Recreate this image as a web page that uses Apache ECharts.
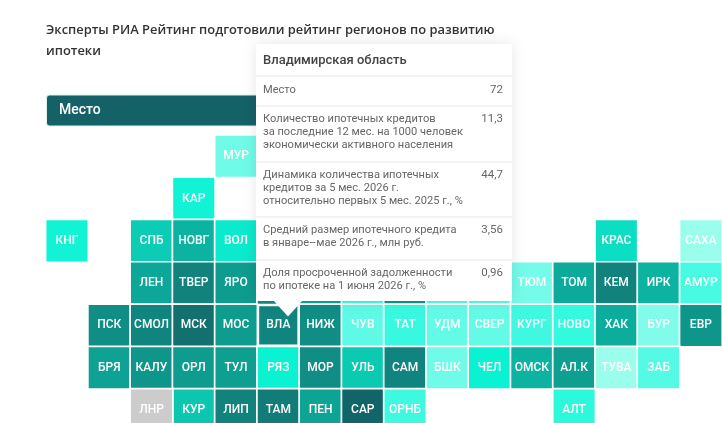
<!DOCTYPE html>
<html lang="ru">
<head>
<meta charset="utf-8">
<title>Рейтинг регионов по развитию ипотеки</title>
<style>
  html, body { margin: 0; padding: 0; background: #fff; overflow: hidden; height: 423px; }
  #chart { width: 722px; height: 440px; }
</style>
<script src="https://cdn.jsdelivr.net/npm/echarts@6/dist/echarts.min.js"></script>
</head>
<body>
<div id="chart"></div>
<script>
// Tile map: each region sits on a column/row of a 16 x 7 grid, coloured by its place.
const titleText = 'Эксперты РИА Рейтинг подготовили рейтинг регионов по развитию\nипотеки';
const metricName = 'Место';

const regionCodes = [
  'ВЛА', 'МУР', 'КАР', 'КНГ', 'СПБ', 'НОВГ', 'ВОЛ', 'КРАС', 'САХА',
  'ЛЕН', 'ТВЕР', 'ЯРО', 'ИВА', 'КОС', 'МЭЛ', 'КИР', 'ПЕРМ', 'ХМАО', 'ТЮМ', 'ТОМ', 'КЕМ', 'ИРК', 'АМУР',
  'ПСК', 'СМОЛ', 'МСК', 'МОС', 'НИЖ', 'ЧУВ', 'ТАТ', 'УДМ', 'СВЕР', 'КУРГ', 'НОВО', 'ХАК', 'БУР', 'ЕВР',
  'БРЯ', 'КАЛУ', 'ОРЛ', 'ТУЛ', 'РЯЗ', 'МОР', 'УЛЬ', 'САМ', 'БШК', 'ЧЕЛ', 'ОМСК', 'АЛ.К', 'ТУВА', 'ЗАБ',
  'КУР', 'ЛИП', 'ТАМ', 'ПЕН', 'САР', 'ОРНБ', 'АЛТ'
];
const regionColumns = [
  5, 4, 3, 0, 2, 3, 4, 13, 15,
  2, 3, 4, 5, 6, 7, 8, 9, 10, 11, 12, 13, 14, 15,
  1, 2, 3, 4, 6, 7, 8, 9, 10, 11, 12, 13, 14, 15,
  1, 2, 3, 4, 5, 6, 7, 8, 9, 10, 11, 12, 13, 14,
  3, 4, 5, 6, 7, 8, 12
];
const regionRows = [
  4, 0, 1, 2, 2, 2, 2, 2, 2,
  3, 3, 3, 3, 3, 3, 3, 3, 3, 3, 3, 3, 3, 3,
  4, 4, 4, 4, 4, 4, 4, 4, 4, 4, 4, 4, 4, 4,
  5, 5, 5, 5, 5, 5, 5, 5, 5, 5, 5, 5, 5, 5,
  6, 6, 6, 6, 6, 6, 6
];
const regionPlaces = [
  72, 12, 32, 32, 48, 56, 37, 42, 5,
  60, 73, 64, 69, 60, 20, 66, 15, 15, 11, 59, 73, 56, 19,
  69, 72, 79, 64, 69, 15, 22, 14, 14, 21, 23, 58, 9, 66,
  62, 66, 64, 63, 34, 69, 49, 72, 12, 34, 56, 63, 5, 17,
  50, 73, 75, 61, 84, 21, 25
];
// Region without a rating, shown in grey
const unratedCode = 'ЛНР';
const unratedCell = [2, 6];

const tooltipRegion = 'Владимирская область';
const tooltipLabels = [
  'Место',
  'Количество ипотечных кредитов\nза последние 12 мес. на 1000 человек\nэкономически активного населения',
  'Динамика количества ипотечных\nкредитов за 5 мес. 2026 г.\nотносительно первых 5 мес. 2025 г., %',
  'Средний размер ипотечного кредита\nв январе–мае 2026 г., млн руб.',
  'Доля просроченной задолженности\nпо ипотеке на 1 июня 2026 г., %'
];
const tooltipValues = ['72', '11,3', '44,7', '3,56', '0,96'];

// Layout of the hover card
const card = { x: 256, y: 44, w: 256, h: 257 };
const cardTextTops = [83.5, 113, 169, 224, 267];
const cardDividers = [75, 105, 161, 216, 259];

const columnNames = Array.from({ length: 16 }, (_, i) => String(i));
const rowNames = Array.from({ length: 7 }, (_, i) => String(i));
const pitch = 42.3;

const cells = regionCodes.map((code, i) => {
  const item = { name: code, value: [regionColumns[i], regionRows[i], regionPlaces[i]] };
  // The hovered tile is inset by a wider white edge
  if (code === 'ВЛА') item.itemStyle = { borderWidth: 4.6 };
  return item;
});

const graphicElements = [
  {
    type: 'rect', z: 5,
    shape: { x: 46.5, y: 95, width: 400, height: 31, r: 3 },
    style: { fill: '#156168', stroke: '#dff1f1', lineWidth: 1 }
  },
  {
    type: 'text', z: 6, x: 59, y: 110,
    style: { text: metricName, fill: '#fff', font: '500 14px Roboto', textVerticalAlign: 'middle' }
  },
  {
    type: 'rect', z: 20,
    shape: { x: card.x, y: card.y, width: card.w, height: card.h },
    style: { fill: '#fff', shadowBlur: 14, shadowColor: 'rgba(0,0,0,0.10)' }
  },
  {
    type: 'polygon', z: 21,
    shape: { points: [[273, 300], [303, 300], [288, 316.5]] },
    style: { fill: '#fff' }
  },
  {
    type: 'text', z: 22, x: 263, y: 60.5,
    style: { text: tooltipRegion, fill: '#444', font: '500 13px Roboto', textVerticalAlign: 'middle' }
  }
];
cardDividers.forEach(y => graphicElements.push({
  type: 'rect', z: 21,
  shape: { x: card.x, y: y, width: card.w, height: 2 },
  style: { fill: '#f3f3f3' }
}));
tooltipLabels.forEach((label, i) => {
  graphicElements.push({
    type: 'text', z: 22, x: 263, y: cardTextTops[i],
    style: { text: label, fill: '#666', font: '11.1px Roboto', lineHeight: 13 }
  });
  graphicElements.push({
    type: 'text', z: 22, x: 503, y: cardTextTops[i],
    style: { text: tooltipValues[i], fill: '#666', font: '11.5px Roboto', lineHeight: 13, textAlign: 'right' }
  });
});

const tileLabel = {
  show: true,
  formatter: p => p.name,
  color: '#fff',
  fontFamily: 'Roboto',
  fontWeight: 500,
  fontSize: 12
};

const chart = echarts.init(document.getElementById('chart'), null, { renderer: 'canvas' });
chart.setOption({
  animation: false,
  title: {
    text: titleText,
    left: 46,
    top: 19.5,
    padding: 0,
    textStyle: {
      fontFamily: 'Open Sans',
      fontWeight: 600,
      fontSize: 12.9,
      lineHeight: 21,
      color: '#333'
    }
  },
  grid: { left: 45.85, top: 135.1, width: pitch * 16, height: pitch * 7 },
  xAxis: {
    type: 'category', data: columnNames, position: 'top',
    axisLine: { show: false }, axisTick: { show: false }, axisLabel: { show: false }, splitLine: { show: false }
  },
  yAxis: {
    type: 'category', data: rowNames, inverse: true,
    axisLine: { show: false }, axisTick: { show: false }, axisLabel: { show: false }, splitLine: { show: false }
  },
  visualMap: {
    show: false,
    seriesIndex: 0,
    dimension: 2,
    min: 1,
    max: 89,
    inRange: {
      color: ['#b4fff0', '#6ffbe8', '#33f9de', '#0bf2d3', '#0cd6bd', '#0bb3a0', '#0f9389', '#127371', '#105a60']
    }
  },
  graphic: { elements: graphicElements },
  series: [
    {
      name: metricName,
      type: 'heatmap',
      data: cells,
      label: tileLabel,
      itemStyle: { borderColor: '#fff', borderWidth: 1.7 },
      emphasis: { disabled: true }
    },
    {
      name: 'Нет данных',
      type: 'heatmap',
      data: [{ name: unratedCode, value: [unratedCell[0], unratedCell[1], 1] }],
      label: tileLabel,
      itemStyle: { color: '#cccccc', borderColor: '#fff', borderWidth: 1.7 },
      emphasis: { disabled: true }
    }
  ]
});
</script>
</body>
</html>
